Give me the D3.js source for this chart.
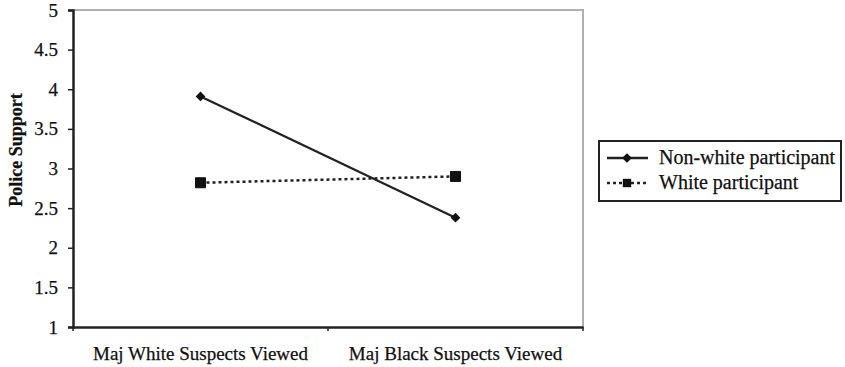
<!DOCTYPE html>
<html><head><meta charset="utf-8">
<script src="https://cdn.jsdelivr.net/npm/d3@7"></script>
<style>body{margin:0;background:#fff}svg{display:block}
svg text{font-family:"Liberation Serif","Tinos","DejaVu Serif",serif;stroke:#111;stroke-width:0.25px;}</style>
</head><body>
<svg id="c" width="845" height="367"></svg>
<script>
const categories = ["Maj White Suspects Viewed", "Maj Black Suspects Viewed"];
const seriesNames = ["Non-white participant", "White participant"];
const nonWhite = [3.91, 2.38];
const white = [2.82, 2.90];
const yTicks = [1, 1.5, 2, 2.5, 3, 3.5, 4, 4.5, 5];
const yTitle = "Police Support";

const svg = d3.select("#c");
const L = 73, R = 583, T = 10, B = 327;
const x = d3.scaleBand().domain(categories).range([L, R]);
const y = d3.scaleLinear().domain([1, 5]).range([B, T]);

// frame top/right gray
svg.append("path").attr("d", `M${L},${T}H${R}V${B}`).attr("fill","none").attr("stroke","#b0b0b0").attr("stroke-width",2);

// y axis
const ya = svg.append("g").attr("transform",`translate(${L},0)`)
  .call(d3.axisLeft(y).tickValues(yTicks).tickFormat(d3.format("")).tickSize(5).tickPadding(10));
ya.attr("font-family",null);
ya.select(".domain").attr("stroke","#222").attr("stroke-width",2.5);
ya.selectAll(".tick line").attr("stroke","#222").attr("stroke-width",1.5);
ya.selectAll("text").attr("font-size",19).attr("fill","#111");

// x axis
const xa = svg.append("g").attr("transform",`translate(0,${B})`)
  .call(d3.axisBottom(x).tickSize(0).tickPadding(20));
xa.attr("font-family",null);
xa.select(".domain").attr("stroke","#222").attr("stroke-width",2.5);
xa.selectAll(".tick line").remove();
xa.selectAll("text").attr("font-size",19).attr("fill","#111");
// boundary ticks
svg.append("g").selectAll("line").data([L, (L+R)/2, R]).join("line")
  .attr("x1",d=>d).attr("x2",d=>d).attr("y1",B).attr("y2",B+4).attr("stroke","#222").attr("stroke-width",1.5);

// y title
svg.append("text").attr("transform",`translate(22,150) rotate(-90)`)
  .attr("text-anchor","middle").attr("font-size",18).attr("font-weight","bold").attr("fill","#111")
  .text(yTitle);

const cx = d => x(d) + x.bandwidth()/2;
const line = d3.line().x(d=>cx(d.c)).y(d=>y(d.v));
const nwData = categories.map((c,i)=>({c, v: nonWhite[i]}));
const wData = categories.map((c,i)=>({c, v: white[i]}));

svg.append("path").datum(wData).attr("d",line).attr("fill","none").attr("stroke","#222").attr("stroke-width",2.5).attr("stroke-dasharray","3,3");
svg.append("path").datum(nwData).attr("d",line).attr("fill","none").attr("stroke","#222").attr("stroke-width",2.2);

const diamond = d3.symbol().type(d3.symbolDiamond2).size(60);
const square = d3.symbol().type(d3.symbolSquare).size(100);
svg.append("g").selectAll("path").data(nwData).join("path")
  .attr("d",diamond).attr("transform",d=>`translate(${cx(d.c)},${y(d.v)})`).attr("fill","#111");
svg.append("g").selectAll("path").data(wData).join("path")
  .attr("d",square).attr("transform",d=>`translate(${cx(d.c)},${y(d.v)})`).attr("fill","#111").attr("stroke","#111").attr("stroke-width",1).attr("stroke-linejoin","round");

// legend
const lg = svg.append("g");
lg.append("rect").attr("x",599).attr("y",141).attr("width",242).attr("height",60).attr("fill","#fff").attr("stroke","#222").attr("stroke-width",2);
const rows = [
  {name: seriesNames[0], dash: null, sym: diamond, yy: 158},
  {name: seriesNames[1], dash: "3,3", sym: d3.symbol().type(d3.symbolSquare).size(70), yy: 183}
];
rows.forEach(r=>{
  lg.append("line").attr("x1",607).attr("x2",648).attr("y1",r.yy).attr("y2",r.yy).attr("stroke","#222").attr("stroke-width",2.5).attr("stroke-dasharray",r.dash);
  lg.append("path").attr("d",r.sym).attr("transform",`translate(627,${r.yy})`).attr("fill","#111");
  lg.append("text").attr("x",659).attr("y",r.yy+6).attr("font-size",20).attr("fill","#111").text(r.name);
});
</script>
</body></html>
